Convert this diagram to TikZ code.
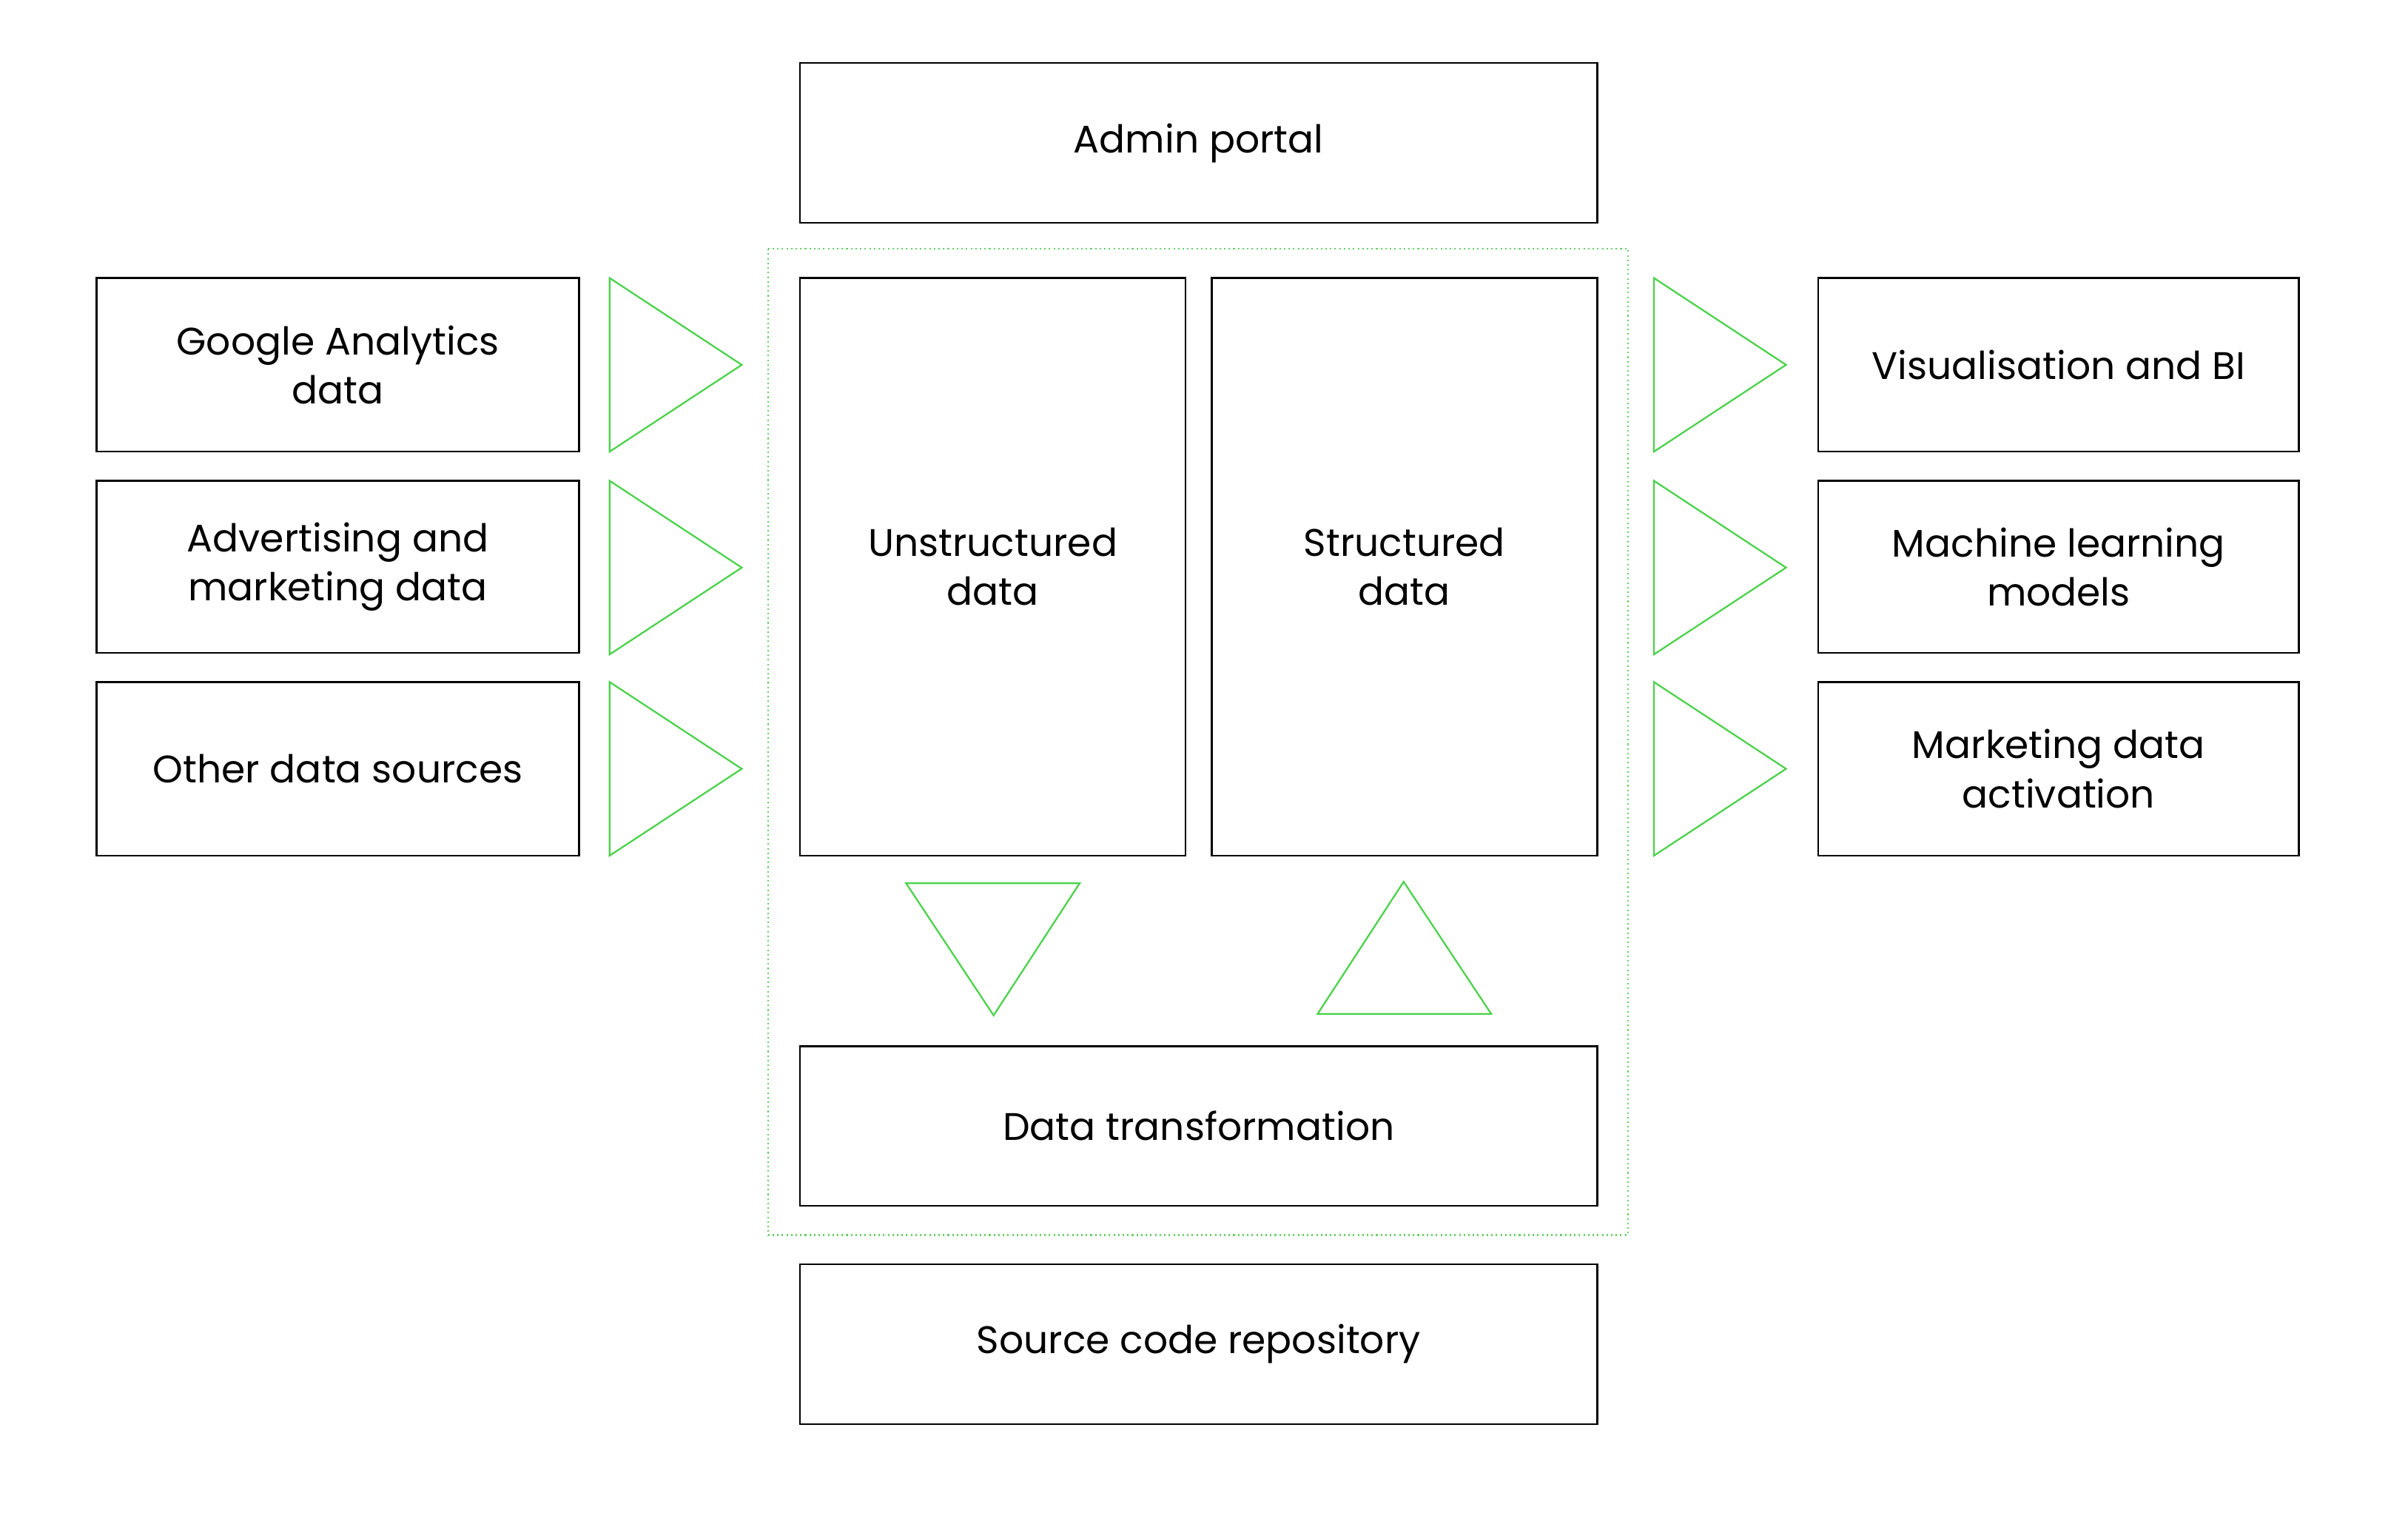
\documentclass[tikz,border=0pt]{standalone}
\usepackage{fontspec}
\setmainfont{Poppins}
\begin{document}
\begin{tikzpicture}[x=1pt,y=-1pt,
  box/.style={draw=black,line width=1.2pt},
  tri/.style={draw=green!75!black!70!white,line width=1.1pt},
  lbl/.style={font=\fontsize{25}{32}\selectfont,align=center,text=black}]
\useasboundingbox (0,0) rectangle (1568,996);
\draw[green!70!black!60!white,line width=1pt,dotted] (500,162) rectangle (1060,804);
\draw[box] (521,41) rectangle (1040,145) node[lbl,midway] (admin) {Admin portal};
\draw[box] (63,181) rectangle (377,294) node[lbl,midway] (ga) {Google Analytics\\data};
\draw[box] (63,313) rectangle (377,425) node[lbl,midway] (ad) {Advertising and\\marketing data};
\draw[box] (63,444) rectangle (377,557) node[lbl,midway] (oth) {Other data sources};
\draw[box] (1184,181) rectangle (1497,294) node[lbl,midway] (vis) {Visualisation and BI};
\draw[box] (1184,313) rectangle (1497,425) node[lbl,midway] (ml) {Machine learning\\models};
\draw[box] (1184,444) rectangle (1497,557) node[lbl,midway] (mda) {Marketing data\\activation};
\draw[box] (521,181) rectangle (772,557);
\node[lbl] (uns) at (646.5,369) {Unstructured\\data};
\draw[box] (789,181) rectangle (1040,557);
\node[lbl] (str) at (914.5,369) {Structured\\data};
\draw[box] (521,681) rectangle (1040,785) node[lbl,midway] (dt) {Data transformation};
\draw[box] (521,823) rectangle (1040,927) node[lbl,midway] (src) {Source code repository};
\foreach \y in {181,313,444}{
  \draw[tri] (397,\y) -- (397,\y+113) -- (483,\y+56.5) -- cycle;
  \draw[tri] (1077,\y) -- (1077,\y+113) -- (1163,\y+56.5) -- cycle;
}
\draw[tri] (590,575) -- (703,575) -- (647,661) -- cycle;
\draw[tri] (858,660) -- (971,660) -- (914,574) -- cycle;
\end{tikzpicture}
\end{document}
